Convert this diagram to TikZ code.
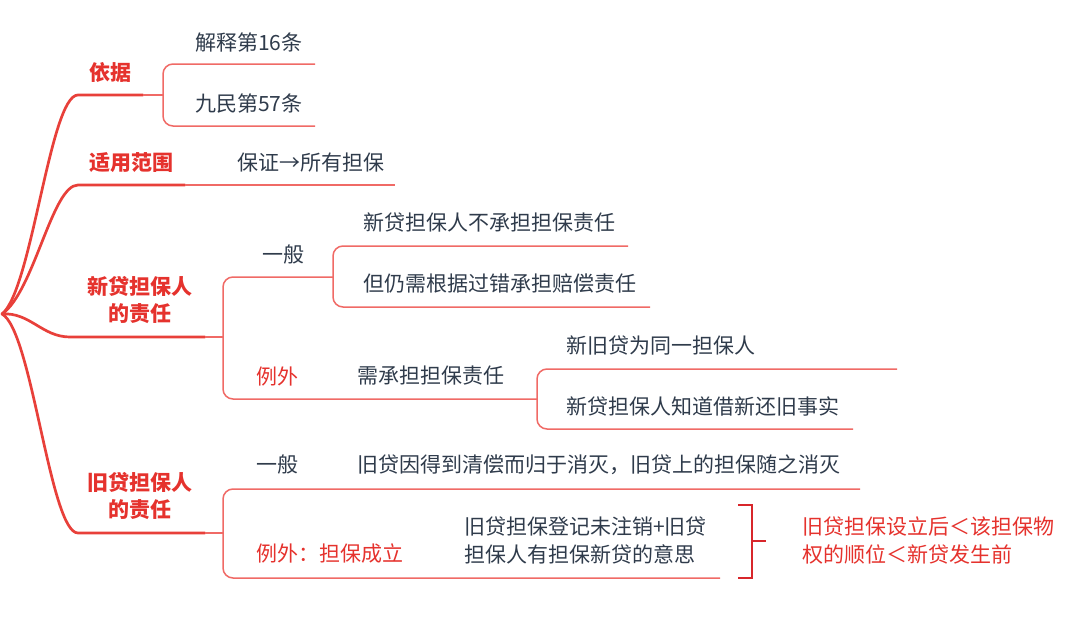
\documentclass[tikz,border=0pt]{standalone}
\usepackage{fontspec}
\newfontfamily\cjk{Noto Sans CJK SC}
\definecolor{mainred}{HTML}{E8403A}
\definecolor{thinred}{HTML}{F06A66}
\definecolor{txt}{HTML}{2F3B4B}
\definecolor{lblred}{HTML}{E5322D}
\definecolor{brk}{HTML}{D8262B}
\tikzset{
  mainline/.style={mainred, line width=2.7pt, line cap=round},
  thinline/.style={thinred, line width=1.5pt},
  lvlone/.style={font=\cjk\bfseries\fontsize{21}{27}\selectfont, text=lblred, align=center, inner sep=0pt},
  txtnode/.style={font=\cjk\fontsize{21}{28}\selectfont, text=txt, anchor=west, inner sep=0pt, align=left},
  rednode/.style={txtnode, text=lblred},
  brace/.style={thinline, rounded corners=10pt}
}
\begin{document}
\begin{tikzpicture}[x=1pt,y=-1pt]
\useasboundingbox (0,0) rectangle (1080,627);
\coordinate (root) at (2,314);

% level one labels
\node[lvlone] (yj) at (110,72) {依据};
\node[lvlone] (sy) at (131,163) {适用范围};
\node[lvlone] (xd) at (140,300) {新贷担保人\\的责任};
\node[lvlone] (jd) at (140,496) {旧贷担保人\\的责任};

% main branches
\coordinate (yjs) at (78,95);  \coordinate (yje) at (143,95);
\coordinate (sys) at (78,185); \coordinate (sye) at (185,185);
\coordinate (xds) at (70,337); \coordinate (xde) at (205,337);
\coordinate (jds) at (78,533); \coordinate (jde) at (205,533);
\draw[mainline] (root) .. controls (32,290) and (50,95) .. (yjs) -- (yje);
\draw[mainline] (root) .. controls (34,292) and (52,185) .. (sys) -- (sye);
\draw[mainline] (root) .. controls (30,312) and (42,337) .. (xds) -- (xde);
\draw[mainline] (root) .. controls (32,330) and (50,533) .. (jds) -- (jde);

% 依据
\coordinate (yjb) at (163,95);
\coordinate (yja) at (315,64); \coordinate (yjc) at (315,126);
\draw[thinline] (yje) -- (yjb);
\draw[brace] (yja) -| (163,126) -- (yjc);
\node[txtnode] (yj1) at (195,42) {解释第16条};
\node[txtnode] (yj2) at (195,104) {九民第57条};

% 适用范围
\coordinate (syf) at (395,185);
\draw[thinline] (sye) -- (syf);
\node[txtnode] (sy1) at (237,163) {保证→所有担保};

% 新贷担保人的责任
\coordinate (xdb) at (223,337);
\coordinate (xdg) at (333,277);
\coordinate (xdl) at (537,399);
\draw[thinline] (xde) -- (xdb);
\draw[brace] (xdg) -| (223,399) -- (xdl);
\node[txtnode] (xdg1) at (262,255) {一般};
\coordinate (xga) at (628,246); \coordinate (xgb) at (650,307);
\draw[brace] (xga) -| (333,307) -- (xgb);
\node[txtnode] (xg1) at (363,223) {新贷担保人不承担担保责任};
\node[txtnode] (xg2) at (363,284) {但仍需根据过错承担赔偿责任};
\node[rednode] (xdl1) at (256,377) {例外};
\node[txtnode] (xdl2) at (357,376) {需承担担保责任};
\coordinate (xla) at (897,369); \coordinate (xlb) at (853,429);
\draw[brace] (xla) -| (537,429) -- (xlb);
\node[txtnode] (xl1) at (566,346) {新旧贷为同一担保人};
\node[txtnode] (xl2) at (566,406) {新贷担保人知道借新还旧事实};

% 旧贷担保人的责任
\coordinate (jdb) at (223,533);
\coordinate (jdg) at (860,489);
\coordinate (jdl) at (720,578);
\draw[thinline] (jde) -- (jdb);
\draw[brace] (jdg) -| (223,578) -- (jdl);
\node[txtnode] (jg0) at (256,465) {一般};
\node[txtnode] (jg1) at (357,465) {旧贷因得到清偿而归于消灭，旧贷上的担保随之消灭};
\node[rednode] (jl0) at (256,554) {例外：担保成立};
\node[txtnode] (jl1) at (464,541) {旧贷担保登记未注销+旧贷\\担保人有担保新贷的意思};

% square bracket and note
\coordinate (sqa) at (738,505); \coordinate (sqb) at (738,578);
\coordinate (sqm) at (752,541); \coordinate (sqt) at (766,541);
\draw[brk, line width=2.2pt] (sqa) -- (752,505) -- (752,578) -- (sqb);
\draw[brk, line width=2.2pt] (sqm) -- (sqt);
\node[rednode] (note) at (802,541) {旧贷担保设立后＜该担保物\\权的顺位＜新贷发生前};
\end{tikzpicture}
\end{document}
